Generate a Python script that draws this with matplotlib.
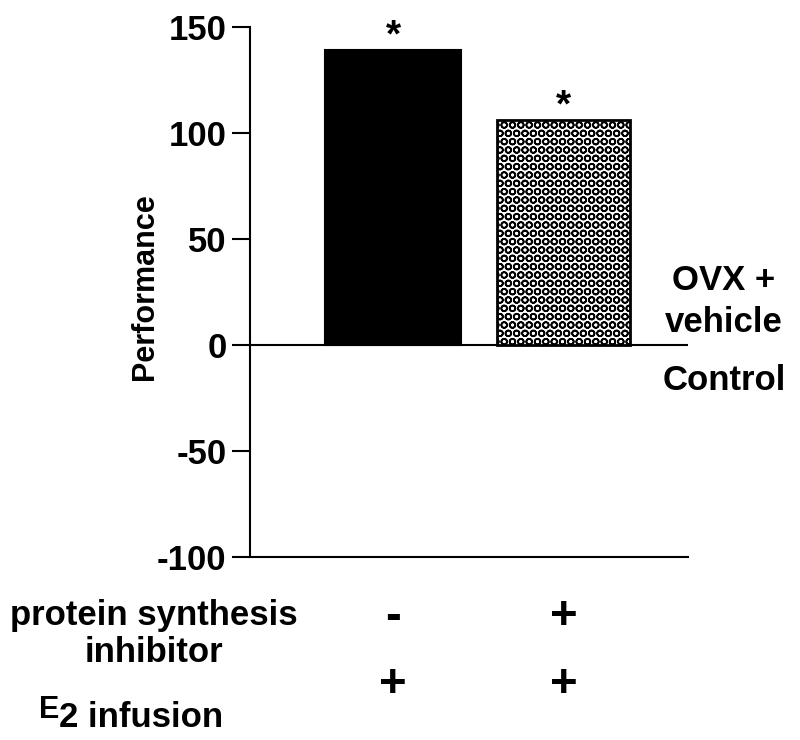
import matplotlib
matplotlib.use("Agg")
import matplotlib.pyplot as plt
import matplotlib.transforms as mtransforms

# -----------------------------
# DATA
# -----------------------------
groups = ["E2", "E2 + inhibitor"]
performance = [139, 106]
inhibitor_signs = ["-", "+"]
e2_signs = ["+", "+"]
significant = [True, True]
yticks = [-100, -50, 0, 50, 100, 150]

plt.rcParams["font.family"] = ["Liberation Sans", "DejaVu Sans"]
plt.rcParams["font.weight"] = "bold"
plt.rcParams["axes.unicode_minus"] = False
plt.rcParams["hatch.linewidth"] = 1.2

fig = plt.figure(figsize=(8, 7.4), dpi=100)
ax = fig.add_axes([0.3125, 0.247, 0.5475, 0.7165])

x = [1, 2]
ax.bar(x[0], performance[0], width=0.8, color="black", edgecolor="black", linewidth=1.5)
ax.bar(x[1], performance[1], width=0.78, color="white", edgecolor="black",
       linewidth=2, hatch="OO")

ax.axhline(0, color="black", linewidth=1.5, zorder=0)

for xi, val, sig in zip(x, performance, significant):
    if sig:
        ax.annotate("*", (xi, val), xytext=(0, -3), textcoords="offset points",
                    ha="center", va="bottom", fontsize=28, fontweight="bold")

ax.set_xlim(0.16, 2.73)
ax.set_ylim(-100, 150)
ax.set_yticks(yticks)
ax.set_xticks([])
ax.tick_params(axis="y", length=13, width=1.5, labelsize=25, pad=4)
for lab in ax.get_yticklabels():
    lab.set_fontweight("bold")
ax.spines["top"].set_visible(False)
ax.spines["right"].set_visible(False)
ax.spines["left"].set_linewidth(1.5)
ax.spines["bottom"].set_linewidth(1.5)
ax.set_ylabel("Performance", fontsize=22, fontweight="bold", va="center")
ax.yaxis.set_label_coords(-0.24, 0.51)

# right-hand reference labels
fig.text(724 / 800, 1 - 280 / 740, "OVX +", ha="center", va="center",
         fontsize=25, fontweight="bold")
fig.text(724 / 800, 1 - 322 / 740, "vehicle", ha="center", va="center",
         fontsize=25, fontweight="bold")
fig.text(724 / 800, 1 - 380 / 740, "Control", ha="center", va="center",
         fontsize=25, fontweight="bold")

# treatment table below the axis
trans = mtransforms.blended_transform_factory(ax.transData, fig.transFigure)
for xi, s in zip(x, inhibitor_signs):
    ax.text(xi, 1 - 617 / 740, s, transform=trans, ha="center", va="center",
            fontsize=34, fontweight="bold")
for xi, s in zip(x, e2_signs):
    ax.text(xi, 1 - 685 / 740, s, transform=trans, ha="center", va="center",
            fontsize=34, fontweight="bold")

fig.text(154 / 800, 1 - 615 / 740, "protein synthesis", ha="center",
         va="center", fontsize=25, fontweight="bold")
fig.text(154 / 800, 1 - 652 / 740, "inhibitor", ha="center",
         va="center", fontsize=25, fontweight="bold")
fig.text(39 / 800, 1 - 718 / 740, "E", ha="left", va="baseline",
         fontsize=22, fontweight="bold")
fig.text(59 / 800, 1 - 727 / 740, "2 infusion", ha="left", va="baseline",
         fontsize=25, fontweight="bold")

fig.savefig("out.png", dpi=100)
